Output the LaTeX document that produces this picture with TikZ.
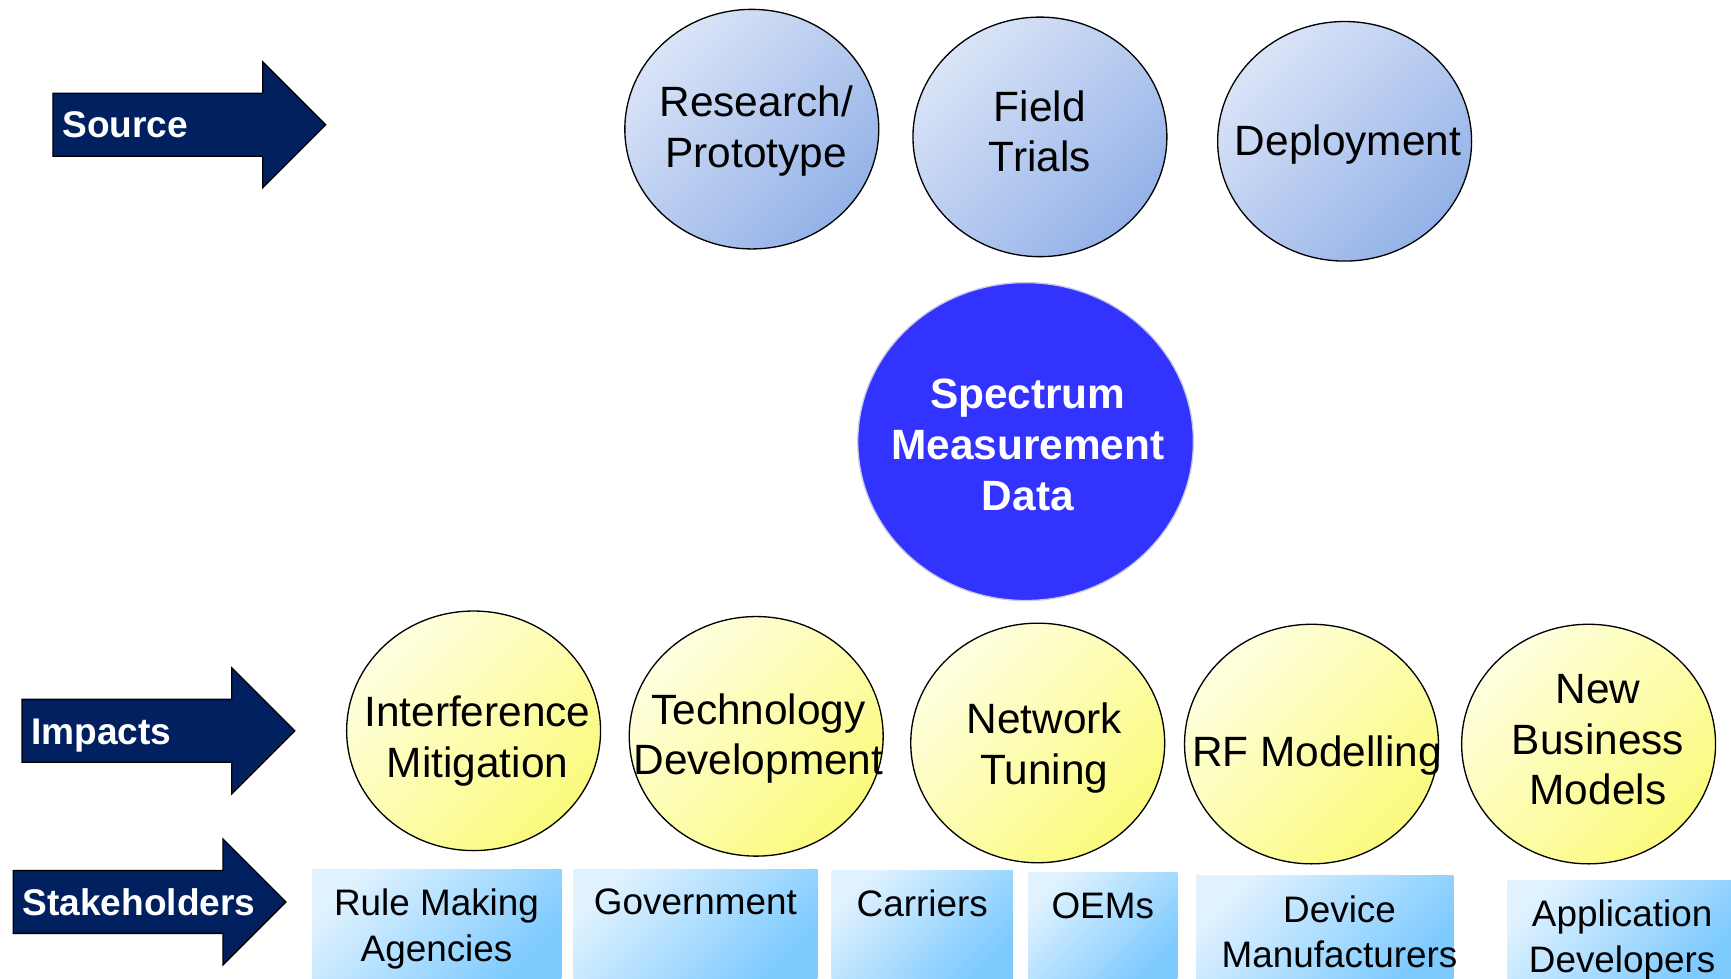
\documentclass[tikz,border=0pt]{standalone}
\usepackage{fontspec}
\setmainfont{Liberation Sans}
\usetikzlibrary{shapes.geometric}

\definecolor{navytag}{RGB}{0,32,96}
\definecolor{srclight}{RGB}{218,228,247}
\definecolor{srcdark}{RGB}{148,178,232}
\definecolor{implight}{RGB}{255,255,224}
\definecolor{impdark}{RGB}{250,250,125}
\definecolor{stklight}{RGB}{224,242,255}
\definecolor{stkdark}{RGB}{125,202,255}
\definecolor{hub}{RGB}{51,51,255}
\definecolor{hubrim}{RGB}{200,200,228}

\tikzset{
    blob/.style={ellipse, draw=black, line width=0.6pt,
        minimum width=115pt, minimum height=108.5pt},
    blobtext/.style={inner sep=0pt, align=center,
        font=\fontsize{19.2}{23}\selectfont},
    source/.style={blob, top color=srclight, bottom color=srcdark, shading angle=45},
    impact/.style={blob, top color=implight, bottom color=impdark, shading angle=45},
    stake/.style={anchor=north west, inner sep=0pt,
        top color=stklight, bottom color=stkdark, shading angle=45},
    stakelabel/.style={anchor=north, yshift=-9pt, inner sep=0pt, align=center,
        font=\fontsize{16.7}{20.5}\selectfont},
    tag/.style={draw=black, line width=0.6pt, fill=navytag},
    tagtext/.style={anchor=base west, inner sep=0pt, text=white,
        font=\fontsize{16.8}{20}\selectfont\bfseries}
}

\begin{document}
\begin{tikzpicture}[x=0.5pt, y=-0.5pt]
    \useasboundingbox (0,0) rectangle (1568,886);

    % row labels
    \foreach \x/\y/\t in {48/113/Source, 20/662/Impacts, 12/817/Stakeholders}{
        \draw[tag] (\x,\y-28.5) -- (\x+190,\y-28.5) -- (\x+190,\y-57)
            -- (\x+247,\y) -- (\x+190,\y+57) -- (\x+190,\y+28.5)
            -- (\x,\y+28.5) -- cycle;
        \node[tagtext] (tag-\t) at (\x+8,\y+12) {\t};
    }

    % sources
    \node[source, label={[blobtext, xshift=2pt, yshift=-1pt]center:Research/\\Prototype}]
        (rp) at (681,117) {};
    \node[source, label={[blobtext, yshift=2.5pt]center:Field\\Trials}]
        (ft) at (942,124) {};
    \node[source, label={[blobtext, xshift=1.5pt, yshift=-1.5pt]center:Deployment}]
        (dep) at (1218,128) {};

    \node[blob, fill=hub, draw=hubrim, minimum width=152pt, minimum height=144pt,
        label={[blobtext, text=white, font=\fontsize{19.2}{23}\selectfont\bfseries,
            xshift=1pt, yshift=-1.5pt]center:Spectrum\\Measurement\\Data}]
        (smd) at (929,400) {};

    % impacts
    \node[impact, label={[blobtext, xshift=1.75pt, yshift=-4.5pt]center:Interference\\Mitigation}]
        (im) at (429,662) {};
    \node[impact, label={[blobtext, xshift=1pt, yshift=-1pt]center:Technology\\Development}]
        (td) at (685,667) {};
    \node[impact, label={[blobtext, xshift=3pt, yshift=-2.25pt]center:Network\\Tuning}]
        (nt) at (940,673) {};
    \node[impact, label={[blobtext, xshift=2.5pt, yshift=-5pt]center:RF Modelling}]
        (rf) at (1188,674) {};
    \node[impact, label={[blobtext, xshift=4.25pt, yshift=2pt]center:New\\Business\\Models}]
        (nbm) at (1439,674) {};

    % stakeholders
    \foreach \n/\x/\y/\w/\dx/\t in {rma/282/787/226/0/{Rule Making\\Agencies},
            gov/519/787/221/0/Government, car/753/788/164/0/Carriers,
            oem/931/790/135/0/OEMs, dev/1083/793/233/6.75/{Device\\Manufacturers},
            app/1365/797/203/1.25/{Application\\Developers}}{
        \node[stake, minimum width=\w*0.5pt, minimum height=(886-\y)*0.5pt,
            label={[stakelabel, xshift=\dx pt]north:\t}] (\n) at (\x,\y) {};
    }
\end{tikzpicture}
\end{document}
